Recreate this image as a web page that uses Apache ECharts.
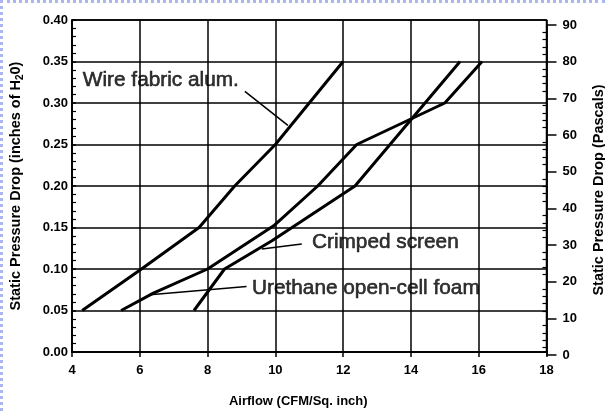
<!DOCTYPE html>
<html><head><meta charset="utf-8">
<script src="https://cdn.jsdelivr.net/npm/echarts@6/dist/echarts.min.js"></script>
<style>
html,body{margin:0;padding:0;background:#fff;}
#c{position:absolute;left:0;top:0;width:605px;height:411px;}
#frame{position:absolute;left:0;top:0;width:605px;height:411px;box-sizing:border-box;border-top:3px dotted #a9b6ef;border-left:3px dotted #a9b6ef;pointer-events:none;}
</style></head>
<body><div id="c"></div><div id="frame"></div>
<script>
// Data (Airflow CFM/sq.inch vs Static pressure drop, inches H2O)
const wireX = [4.3, 6.05, 7.75, 8.8, 10.0, 12.0];
const wireY = [0.05, 0.10, 0.15, 0.20, 0.25, 0.35];
const urethaneX = [5.45, 6.4, 8.0, 9.95, 11.25, 12.4, 15.0, 16.1];
const urethaneY = [0.05, 0.071, 0.10, 0.152, 0.20, 0.25, 0.30, 0.35];
const crimpedX = [7.6, 8.5, 9.9, 12.35, 15.45];
const crimpedY = [0.05, 0.10, 0.134, 0.20, 0.35];
const xTicks = [4, 6, 8, 10, 12, 14, 16, 18];
const leftTicks = [0, 0.05, 0.10, 0.15, 0.20, 0.25, 0.30, 0.35, 0.40];
const rightTicks = [0, 10, 20, 30, 40, 50, 60, 70, 80, 90];
// annotation labels (anchor in data units) and leader lines
const labelTexts = ['Wire fabric alum.', 'Crimped screen', 'Urethane open-cell foam'];
const labelAnchorsX = [4.32, 11.08, 9.31];
const labelAnchorsY = [0.328, 0.132, 0.077];
const leaderWire = [[9.10, 0.314], [10.37, 0.273]];
const leaderCrimped = [[10.78, 0.130], [9.60, 0.124]];
const leaderUrethane = [[9.15, 0.079], [6.30, 0.0689]];

const pair = (xs, ys) => xs.map((x, i) => [x, ys[i]]);
const FONT = '"Liberation Sans", Arial, sans-serif';
const tickLab = {fontFamily: FONT, fontSize: 13, fontWeight: 'bold', color: '#000'};

const chart = echarts.init(document.getElementById('c'), null, {renderer: 'canvas'});
const lineSeries = (name, data) => ({
  name, type: 'line', xAxisIndex: 0, yAxisIndex: 0, data, symbol: 'none',
  lineStyle: {color: '#000', width: 3}, silent: true, z: 5, animation: false
});
const leader = (data) => ({
  type: 'line', xAxisIndex: 0, yAxisIndex: 0, data, symbol: 'none',
  lineStyle: {color: '#000', width: 1.5}, silent: true, z: 6, animation: false
});

chart.setOption({
  animation: false,
  backgroundColor: '#fff',
  grid: [
    {left: 72, right: 58.5, top: 20, bottom: 59, show: true, borderColor: '#000', borderWidth: 1.5, backgroundColor: 'transparent', containLabel: false, outerBoundsMode: 'none'},
    {left: 72, right: 58.5, top: 25, bottom: 56, show: false, containLabel: false, outerBoundsMode: 'none'}
  ],
  xAxis: [
    {type: 'value', gridIndex: 0, min: xTicks[0], max: xTicks[xTicks.length - 1], interval: 2,
     name: 'Airflow (CFM/Sq. inch)', nameLocation: 'middle', nameGap: 43,
     nameTextStyle: {fontFamily: FONT, fontSize: 13, fontWeight: 'bold', color: '#000', padding: [0, 22, 0, 0]},
     axisLine: {show: true, lineStyle: {color: '#000', width: 1.5}},
     axisTick: {show: true, length: 5, lineStyle: {color: '#000', width: 1.5}},
     axisLabel: Object.assign({margin: 12}, tickLab),
     splitLine: {show: true, lineStyle: {color: '#000', width: 1.5}}},
    {type: 'value', gridIndex: 1, min: 4, max: 18, show: false}
  ],
  yAxis: [
    {type: 'value', gridIndex: 0, min: leftTicks[0], max: leftTicks[leftTicks.length - 1], interval: 0.05,
     name: '{a|Static Pressure Drop (inches of H}{s|2}{a|0)}', nameLocation: 'middle', nameGap: 47, nameRotate: 90,
     nameTextStyle: {rich: {
        a: {fontFamily: FONT, fontSize: 14.5, fontWeight: 'bold', color: '#000'},
        s: {fontFamily: FONT, fontSize: 10, fontWeight: 'bold', color: '#000', padding: [8, 0, 0, 0]}}},
     axisLine: {show: true, lineStyle: {color: '#000', width: 1.5}},
     axisTick: {show: true, inside: true, length: 4, lineStyle: {color: '#000', width: 1.5}},
     minorTick: {show: true, splitNumber: 5, length: 4, lineStyle: {color: '#000', width: 1.2}},
     axisLabel: Object.assign({margin: 4, formatter: v => v.toFixed(2)}, tickLab),
     splitLine: {show: true, lineStyle: {color: '#000', width: 1.5}}},
    {type: 'value', gridIndex: 1, position: 'right', offset: 0, min: rightTicks[0], max: rightTicks[rightTicks.length - 1], interval: 10,
     name: 'Static Pressure Drop (Pascals)', nameLocation: 'middle', nameGap: 45, nameRotate: 90,
     nameTextStyle: {fontFamily: FONT, fontSize: 14.5, fontWeight: 'bold', color: '#000'},
     axisLine: {show: true, lineStyle: {color: '#000', width: 1.5}},
     axisTick: {show: true, inside: false, length: 10, lineStyle: {color: '#000', width: 1.5}},
     axisLabel: Object.assign({margin: 16}, tickLab),
     splitLine: {show: false}},
    {type: 'value', gridIndex: 1, position: 'right', offset: 0, min: rightTicks[0], max: rightTicks[rightTicks.length - 1], interval: 10,
     axisLine: {show: false}, axisLabel: {show: false},
     axisTick: {show: false, inside: true},
     minorTick: {show: true, splitNumber: 5, length: 4, lineStyle: {color: '#000', width: 1.2}},
     splitLine: {show: false}}
  ],
  series: [
    lineSeries('Wire fabric alum.', pair(wireX, wireY)),
    lineSeries('Urethane open-cell foam', pair(urethaneX, urethaneY)),
    lineSeries('Crimped screen', pair(crimpedX, crimpedY)),
    leader(leaderWire), leader(leaderCrimped), leader(leaderUrethane),
    {type: 'scatter', xAxisIndex: 0, yAxisIndex: 0, symbolSize: 0, silent: true, z: 7,
     data: labelTexts.map((t, i) => ({value: [labelAnchorsX[i], labelAnchorsY[i]], name: t})),
     label: {show: true, position: 'right', distance: 0, formatter: p => p.name,
       fontFamily: FONT, fontSize: 20.8, color: '#000', textBorderColor: '#000', textBorderWidth: 0.6}}
  ]
});
</script></body></html>
